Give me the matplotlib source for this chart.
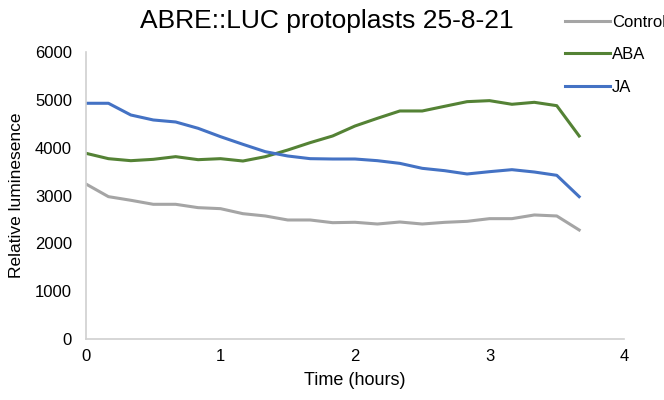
import matplotlib
matplotlib.use("Agg")
import matplotlib.pyplot as plt
import numpy as np

plt.rcParams['font.family'] = ['Liberation Sans', 'DejaVu Sans']

# time points every 10 minutes (hours)
time_h = np.arange(23) / 6.0

control = [3240, 2976, 2900, 2816, 2816, 2746, 2725, 2620, 2572, 2488, 2488, 2432,
           2440, 2404, 2446, 2404, 2439, 2460, 2516, 2516, 2593, 2572, 2279]
aba = [3882, 3770, 3728, 3756, 3812, 3749, 3770, 3721, 3812, 3951, 4105, 4244,
       4453, 4614, 4767, 4767, 4865, 4962, 4983, 4907, 4948, 4878, 4244]
ja = [4928, 4928, 4683, 4579, 4537, 4405, 4230, 4070, 3916, 3826, 3770, 3763,
      3763, 3728, 3672, 3568, 3519, 3450, 3498, 3540, 3491, 3422, 2976]

series = [("Control", control, "#A5A5A5"),
          ("ABA", aba, "#548235"),
          ("JA", ja, "#4472C4")]

fig = plt.figure(figsize=(6.64, 4.0), dpi=100)
ax = fig.add_axes([86/664, 61/400, 538/664, 287/400])

for name, vals, col in series:
    ax.plot(time_h, vals, color=col, linewidth=2.2, label=name)

ax.set_xlim(0, 4)
ax.set_ylim(0, 6000)
ax.set_xticks([0, 1, 2, 3, 4])
ax.set_yticks(range(0, 6001, 1000))
ax.tick_params(length=0, labelsize=12)
ax.tick_params(axis='y', pad=10)
ax.tick_params(axis='x', pad=7)
for s in ['top', 'right']:
    ax.spines[s].set_visible(False)
for s in ['left', 'bottom']:
    ax.spines[s].set_color('#D0D0D0')
    ax.spines[s].set_linewidth(1.2)

ax.set_xlabel("Time (hours)", fontsize=13, labelpad=6)
ax.set_ylabel("Relative luminesence", fontsize=12.5, labelpad=8)

fig.text(140/664, 1 - 21/400, "ABRE::LUC protoplasts 25-8-21", fontsize=19,
         ha='left', va='center')

leg = fig.legend(loc='upper left', bbox_to_anchor=(558/664, 1 - 8/400), frameon=False,
                 fontsize=12, handlelength=2.7, handletextpad=0.15,
                 labelspacing=1.05, borderaxespad=0)

fig.savefig("out.png", dpi=100)
